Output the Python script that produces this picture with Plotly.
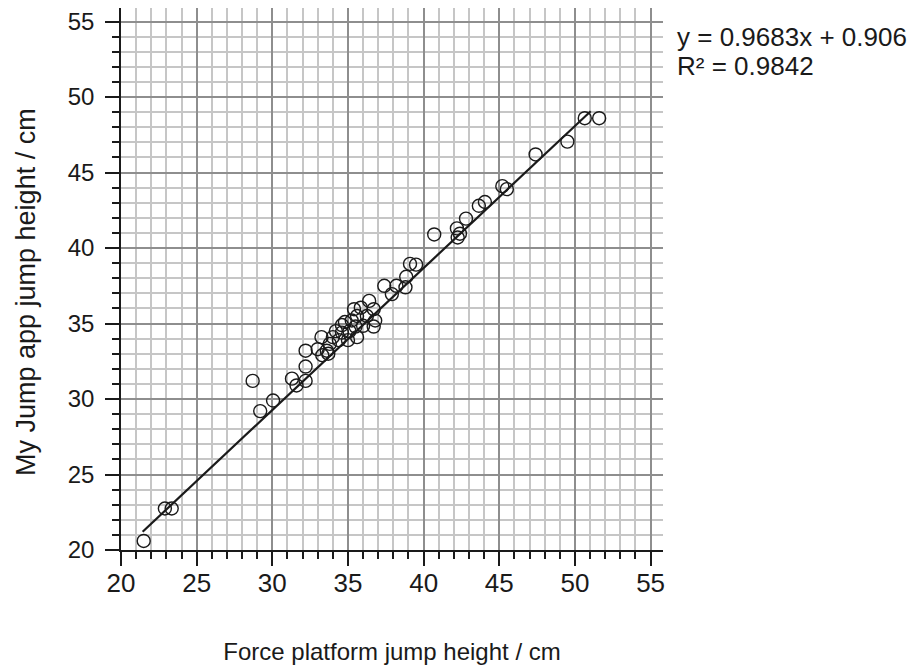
import plotly.graph_objects as go

# Data
force_platform_cm = [
    21.5, 22.9, 23.35, 28.7, 29.2, 30.05, 31.3, 31.6, 32.2, 32.2, 32.2,
    33.0, 33.25, 33.3, 33.6, 33.8, 33.7, 34.0, 34.2, 34.6, 34.4, 34.8, 35.1,
    35.25, 35.4, 35.6, 35.6, 35.85, 35.5, 36.0, 36.25, 36.4, 36.7, 36.7, 36.8,
    34.6, 35.0,
    37.4, 37.9, 38.2, 38.8, 38.85, 39.1, 39.5,
    40.7, 42.2, 42.25, 42.4, 42.8, 43.65, 44.05, 45.2, 45.5, 47.4, 49.5, 50.65, 51.6,
]
my_jump_cm = [
    20.6, 22.75, 22.75, 31.2, 29.2, 29.9, 31.35, 30.9, 33.2, 32.15, 31.2,
    33.3, 34.1, 32.9, 33.2, 33.65, 33.0, 34.1, 34.5, 34.4, 33.9, 35.1, 34.5,
    35.2, 35.95, 34.1, 35.5, 36.05, 34.8, 34.85, 35.5, 36.5, 35.95, 34.8, 35.2,
    34.9, 33.9,
    37.5, 36.95, 37.5, 37.4, 38.1, 38.95, 38.9,
    40.9, 41.3, 40.7, 40.95, 41.95, 42.8, 43.05, 44.1, 43.9, 46.2, 47.05, 48.6, 48.6,
]

# Trend line end points as drawn in the picture
trend_x = [21.43, 51.04]
trend_y = [21.21, 49.06]

x_ticks = [20, 25, 30, 35, 40, 45, 50, 55]
y_ticks = [20, 25, 30, 35, 40, 45, 50, 55]

x_title = "Force platform jump height / cm"
y_title = "My Jump app jump height / cm"
equation_text = "y = 0.9683x + 0.906"
r2_text = "R² = 0.9842"

FONT = "Liberation Sans, Arial, sans-serif"
INK = "#1a1a1a"

fig = go.Figure()
fig.add_trace(go.Scatter(
    x=trend_x, y=trend_y, mode="lines",
    line=dict(color=INK, width=2.2),
    showlegend=False, hoverinfo="skip",
))
fig.add_trace(go.Scatter(
    x=force_platform_cm, y=my_jump_cm, mode="markers",
    marker=dict(symbol="circle-open", size=13, color=INK,
                line=dict(width=1.4, color=INK)),
    showlegend=False,
))

axis_common = dict(
    showline=True, linecolor=INK, linewidth=1.6,
    zeroline=False,
    showgrid=True, gridcolor="#8e8e8e", gridwidth=1.5,
    ticks="outside", ticklen=14, tickwidth=1.6, tickcolor=INK,
    tickmode="array", ticklabeloverflow="allow",
    minor=dict(dtick=1, tick0=20, showgrid=True, gridcolor="#c6c6c6", gridwidth=1.5,
               ticks="outside", ticklen=7, tickwidth=1.6, tickcolor=INK),
)

fig.update_xaxes(
    **axis_common, range=[20, 55.82], tickvals=x_ticks,
    ticktext=[str(v) for v in x_ticks], ticklabelstandoff=-5,
    tickfont=dict(family=FONT, size=26, color=INK),
    title=dict(text=x_title,
               font=dict(family=FONT, size=24, color=INK), standoff=46),
)
fig.update_yaxes(
    **axis_common, range=[20, 55.9], tickvals=y_ticks,
    ticktext=[str(v) for v in y_ticks], ticklabelstandoff=6,
    tickfont=dict(family=FONT, size=24, color=INK),
)

# y-axis title placed as in the reference (slightly below the axis centre)
fig.add_annotation(xref="paper", yref="paper", x=(26 - 121) / 542, y=(550 - 292) / 542,
                   xanchor="center", yanchor="middle", showarrow=False,
                   textangle=-90, text=y_title,
                   font=dict(family=FONT, size=27, color=INK))

fig.add_annotation(xref="paper", yref="paper", x=1.022, y=0.9456,
                   xanchor="left", yanchor="middle", showarrow=False,
                   text=equation_text,
                   font=dict(family=FONT, size=26, color=INK))
fig.add_annotation(xref="paper", yref="paper", x=1.022, y=0.893,
                   xanchor="left", yanchor="middle", showarrow=False,
                   text=r2_text,
                   font=dict(family=FONT, size=26, color=INK))

# The page body adds an 8 px offset, so the figure is 8 px smaller and the
# left/top margins are reduced accordingly.
fig.update_layout(
    width=909, height=660,
    margin=dict(l=113, r=254, t=0, b=118, autoexpand=False),
    plot_bgcolor="white", paper_bgcolor="white",
)

fig.write_html("out.html")
